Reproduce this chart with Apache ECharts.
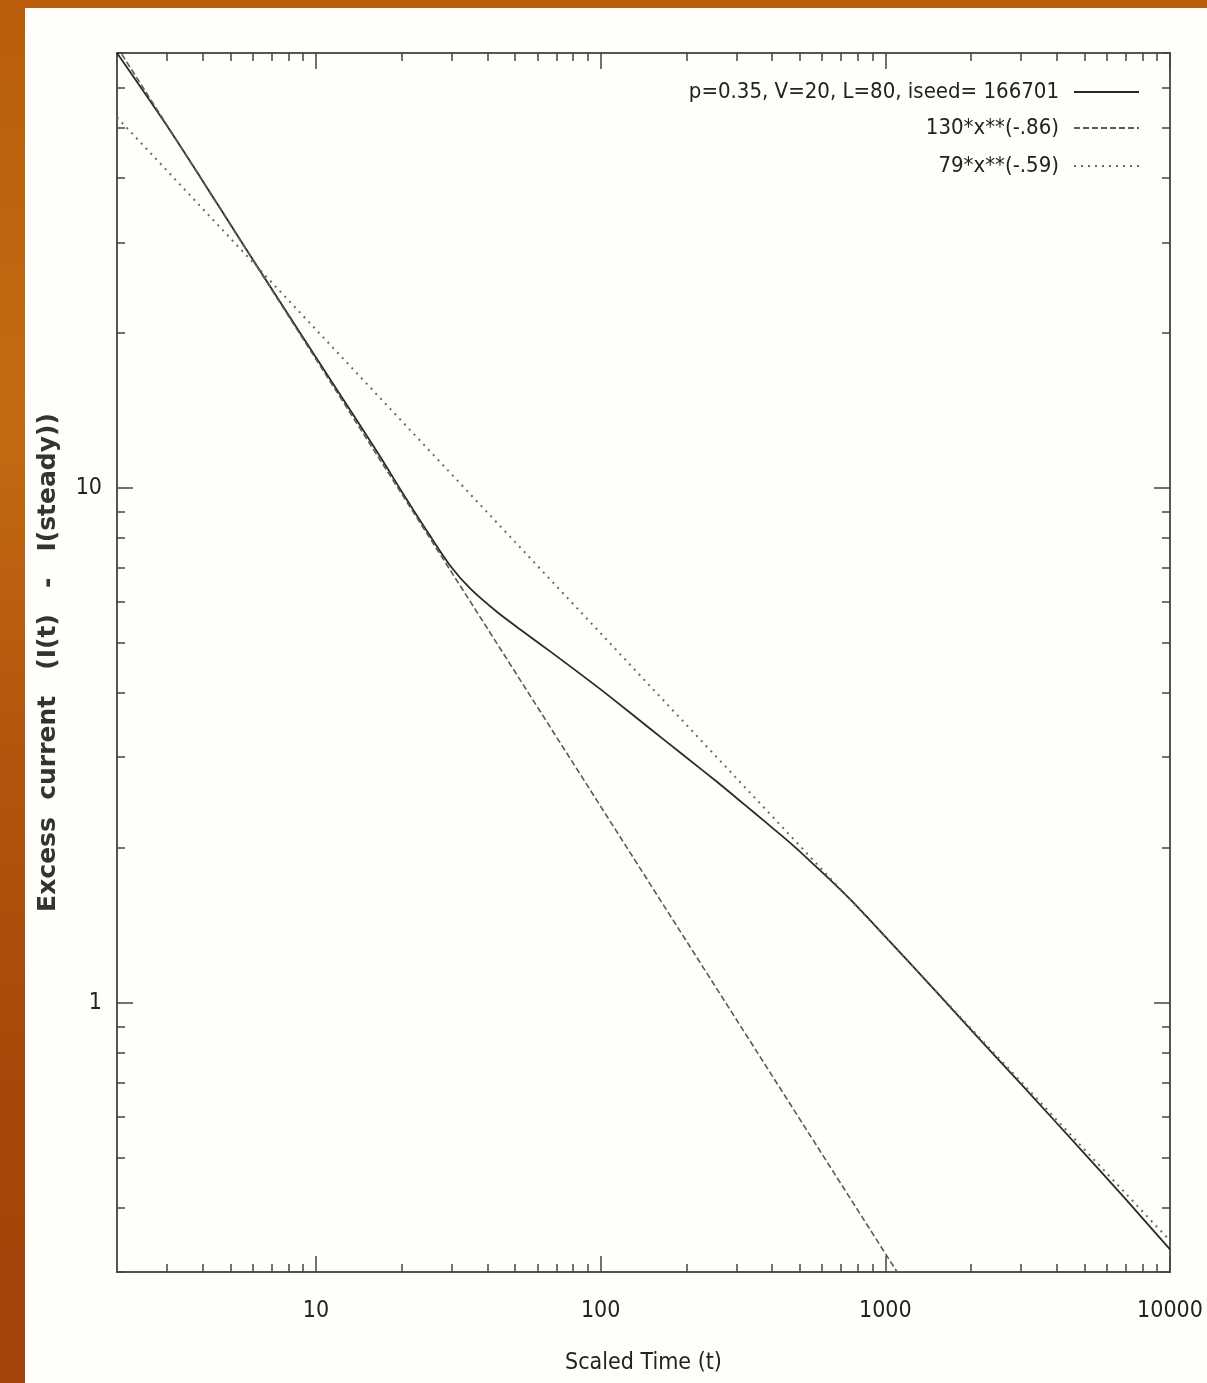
<!DOCTYPE html>
<html>
<head>
<meta charset="utf-8">
<script src="https://cdn.jsdelivr.net/npm/echarts@6/dist/echarts.min.js"></script>
<style>
html, body { margin: 0; padding: 0; width: 1207px; height: 1383px; overflow: hidden; }
body {
    position: relative;
    background: linear-gradient(180deg, #b95d0b 0%, #c36b12 30%, #b4540c 55%, #a8460a 80%, #a3420a 100%);
}
#main { position: absolute; left: 25px; top: 8px; width: 1182px; height: 1375px; background: #fffefb; }
</style>
</head>
<body>
<div id="main"></div>
<script>
// simulation run: scaled time vs excess current
var timeT = [2, 3, 4, 5.6, 8, 11.6, 16.5, 20, 25, 30, 35, 43.5, 55, 67, 85, 108, 150, 195, 260, 300, 350, 400, 475, 550, 657, 800, 1000, 1500, 2000, 3000, 5000, 7000, 10000];
var excess = [70, 50.5, 39.5, 29.5, 21.7, 15.8, 11.7, 9.85, 8.12, 7.0, 6.36, 5.73, 5.2, 4.80, 4.35, 3.93, 3.40, 3.03, 2.67, 2.50, 2.33, 2.19, 2.02, 1.875, 1.71, 1.535, 1.345, 1.055, 0.886, 0.695, 0.51, 0.415, 0.332];

// power-law fits (end points)
var steepX = [2, 1100];
var steepY = [72, 0.3];
var slowX = [2, 10000];
var slowY = [52.5, 0.345];

var seriesNames = ['p=0.35, V=20, L=80, iseed= 166701', '130*x**(-.86)', '79*x**(-.59)'];

var xMajor = [10, 100, 1000, 10000];
var xMinor = [3, 4, 5, 6, 7, 8, 9, 20, 30, 40, 50, 60, 70, 80, 90, 200, 300, 400, 500, 600, 700, 800, 900, 2000, 3000, 4000, 5000, 6000, 7000, 8000, 9000];
var yMajor = [1, 10];
var yMinor = [0.3, 0.4, 0.5, 0.6, 0.7, 0.8, 0.9, 2, 3, 4, 5, 6, 7, 8, 9, 20, 30, 40, 50, 60, 70];

function pairs(xs, ys) {
    var out = [];
    for (var i = 0; i < xs.length; i++) out.push([xs[i], ys[i]]);
    return out;
}

var narrow = '"DejaVu Sans Condensed", "Liberation Sans", sans-serif';
var tickColor = '#444';

function xAxisOf(pos, ticks, len, labels) {
    return {
        type: 'log', logBase: 10, position: pos, min: 2, max: 10000,
        axisLine: { show: false },
        splitLine: { show: false },
        axisTick: { show: true, inside: true, length: len, customValues: ticks, lineStyle: { color: tickColor, width: 1.5 } },
        axisLabel: labels ? {
            customValues: labels, margin: 28, fontSize: 23, fontFamily: narrow, color: '#222',
            formatter: function (v) { return String(Math.round(v)); }
        } : { show: false }
    };
}
function yAxisOf(pos, ticks, len, labels) {
    return {
        type: 'log', logBase: 10, position: pos, min: 0.3, max: 70,
        axisLine: { show: false },
        splitLine: { show: false },
        axisTick: { show: true, inside: true, length: len, customValues: ticks, lineStyle: { color: tickColor, width: 1.5 } },
        axisLabel: labels ? {
            customValues: labels, margin: 15, fontSize: 23, fontFamily: narrow, color: '#222',
            formatter: function (v) { return String(Math.round(v)); }
        } : { show: false }
    };
}

var xAxes = [
    xAxisOf('bottom', xMinor, 8, xMajor),
    xAxisOf('bottom', xMajor, 16, null),
    xAxisOf('top', xMinor, 8, null),
    xAxisOf('top', xMajor, 16, null)
];
xAxes[0].name = 'Scaled Time (t)';
xAxes[0].nameLocation = 'middle';
xAxes[0].nameGap = 80;
xAxes[0].nameTextStyle = { fontSize: 23, fontFamily: narrow, color: '#222' };

var yAxes = [
    yAxisOf('left', yMinor, 8, yMajor),
    yAxisOf('left', yMajor, 16, null),
    yAxisOf('right', yMinor, 8, null),
    yAxisOf('right', yMajor, 16, null)
];
yAxes[0].name = 'Excess  current   (I(t)   -   I(steady))';
yAxes[0].nameLocation = 'middle';
yAxes[0].nameGap = 56;
yAxes[0].nameTextStyle = { fontSize: 25, fontWeight: 'bold', fontFamily: '"DejaVu Sans", sans-serif', color: '#333' };

function legendRow(name, top) {
    return {
        data: [name], right: 67, top: top, padding: 0,
        align: 'right', itemWidth: 65, itemHeight: 14,
        itemStyle: { opacity: 0, color: 'transparent', borderColor: 'transparent' },
        textStyle: { fontSize: 22, fontFamily: narrow, color: '#222', padding: [0, 10, 0, 0] }
    };
}

var dom = document.getElementById('main');
var myChart = echarts.init(dom);
var option = {
    animation: false,
    backgroundColor: '#fffefb',
    grid: { left: 92, top: 45, right: 37, bottom: 111, show: true, borderColor: '#555', borderWidth: 2, backgroundColor: 'transparent' },
    legend: [
        legendRow(seriesNames[0], 73),
        legendRow(seriesNames[1], 109),
        legendRow(seriesNames[2], 147)
    ],
    xAxis: xAxes,
    yAxis: yAxes,
    series: [
        {
            name: seriesNames[0], type: 'line', xAxisIndex: 0, yAxisIndex: 0,
            symbol: 'none', smooth: 0.3,
            lineStyle: { color: '#2a2a2a', width: 1.8 }, itemStyle: { color: '#2a2a2a' },
            data: pairs(timeT, excess)
        },
        {
            name: seriesNames[1], type: 'line', xAxisIndex: 0, yAxisIndex: 0,
            symbol: 'none',
            lineStyle: { color: '#5a5a5a', width: 1.6, type: [6, 3] }, itemStyle: { color: '#5a5a5a' },
            data: pairs(steepX, steepY)
        },
        {
            name: seriesNames[2], type: 'line', xAxisIndex: 0, yAxisIndex: 0,
            symbol: 'none',
            lineStyle: { color: '#6a6a6a', width: 2, type: [2, 5] }, itemStyle: { color: '#6a6a6a' },
            data: pairs(slowX, slowY)
        }
    ]
};
myChart.setOption(option);
</script>
</body>
</html>
